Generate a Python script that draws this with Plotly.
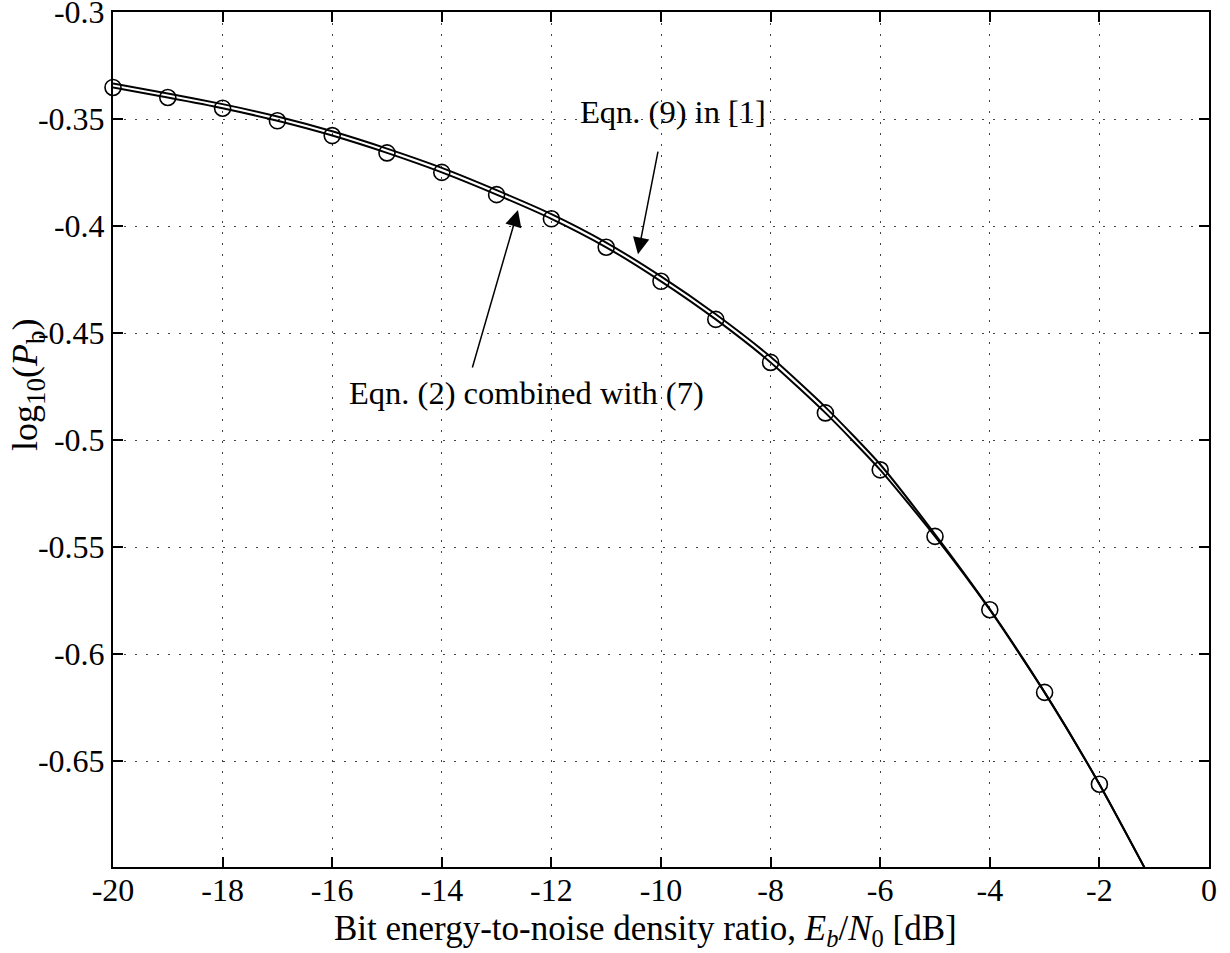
import plotly.graph_objects as go

# ---------------- data ----------------
ebn0_db = [-20, -19, -18, -17, -16, -15, -14, -13, -12, -11, -10,
           -9, -8, -7, -6, -5, -4, -3, -2, -1]
# Eqn. (2) combined with (7)
logpb_eqn2 = [-0.3352, -0.3399, -0.3449, -0.3508, -0.3577, -0.3658, -0.3749,
              -0.3853, -0.3966, -0.4099, -0.4258, -0.4436, -0.4637, -0.4873,
              -0.5139, -0.5450, -0.5793, -0.6179, -0.6608, -0.7083]
# Eqn. (9) in [1]
logpb_eqn9 = [-0.3333, -0.3380, -0.3430, -0.3488, -0.3557, -0.3638, -0.3728,
              -0.3832, -0.3944, -0.4077, -0.4235, -0.4412, -0.4611, -0.4846,
              -0.5114, -0.5440, -0.5790, -0.6179, -0.6608, -0.7083]
# simulated points (circles)
sim_db = [-20, -19, -18, -17, -16, -15, -14, -13, -12, -11, -10,
          -9, -8, -7, -6, -5, -4, -3, -2]
sim_logpb = [-0.3352, -0.3399, -0.3449, -0.3508, -0.3577, -0.3658, -0.3749,
             -0.3853, -0.3966, -0.4099, -0.4258, -0.4436, -0.4637, -0.4873,
             -0.5139, -0.5450, -0.5793, -0.6179, -0.6608]

x_tickvals = [-20, -18, -16, -14, -12, -10, -8, -6, -4, -2, 0]
x_ticktext = ["-20", "-18", "-16", "-14", "-12", "-10", "-8", "-6", "-4", "-2", "0"]
y_tickvals = [-0.65, -0.6, -0.55, -0.5, -0.45, -0.4, -0.35, -0.3]
y_ticktext = ["-0.65", "-0.6", "-0.55", "-0.5", "-0.45", "-0.4", "-0.35", "-0.3"]

label_eqn9 = "Eqn. (9) in [1]"
label_eqn2 = "Eqn. (2) combined with (7)"
x_title = "Bit energy-to-noise density ratio, <i>E<sub>b</sub></i>/<i>N</i><sub>0</sub> [dB]"
y_title = ("log<sub><span style='font-size:27px'>10</span></sub>(<i>P</i>"
           "<sub><span style='font-size:27px'>b</span></sub>)")

FONT = "Liberation Serif, Times New Roman, serif"

fig = go.Figure()
fig.add_trace(go.Scatter(x=ebn0_db, y=logpb_eqn9, mode="lines",
                         line=dict(color="black", width=2, shape="spline", smoothing=0.6),
                         showlegend=False))
fig.add_trace(go.Scatter(x=ebn0_db, y=logpb_eqn2, mode="lines",
                         line=dict(color="black", width=2, shape="spline", smoothing=0.6),
                         showlegend=False))
fig.add_trace(go.Scatter(x=sim_db, y=sim_logpb, mode="markers",
                         marker=dict(symbol="circle-open", size=16, color="black",
                                     line=dict(width=1.6, color="black")),
                         showlegend=False, cliponaxis=False))

# text labels
fig.add_annotation(x=-9.78, y=-0.3467, xref="x", yref="y", text=label_eqn9,
                   xanchor="center", yanchor="middle",
                   showarrow=False, font=dict(family=FONT, size=32.5, color="black"))
fig.add_annotation(x=-12.46, y=-0.478, xref="x", yref="y", text=label_eqn2,
                   xanchor="center", yanchor="middle",
                   showarrow=False, font=dict(family=FONT, size=32.5, color="black"))
# arrows
fig.add_annotation(x=-10.42, y=-0.4131, ax=-10.05, ay=-0.3645, xref="x", yref="y",
                   axref="x", ayref="y", text="", showarrow=True, arrowhead=2,
                   arrowsize=2.2, arrowwidth=1.5, arrowcolor="black")
fig.add_annotation(x=-12.61, y=-0.3925, ax=-13.45, ay=-0.4668, xref="x", yref="y",
                   axref="x", ayref="y", text="", showarrow=True, arrowhead=2,
                   arrowsize=2.2, arrowwidth=1.5, arrowcolor="black")

# axis titles
fig.add_annotation(x=0.4863, y=-0.0737, xref="paper", yref="paper", text=x_title,
                   xanchor="center", yanchor="middle", showarrow=False,
                   font=dict(family=FONT, size=35, color="black"))
fig.add_annotation(x=-0.0775, y=0.5637, xref="paper", yref="paper", text=y_title,
                   xanchor="center", yanchor="middle", textangle=-90, showarrow=False,
                   font=dict(family=FONT, size=36, color="black"))

axis_common = dict(showline=True, linecolor="black", linewidth=2, mirror="ticks",
                   ticks="inside", ticklen=10, tickwidth=2, tickcolor="black",
                   showgrid=True, gridcolor="#444444", gridwidth=1.3,
                   griddash="2px,9px", zeroline=False, ticklabeloverflow="allow",
                   automargin=False,
                   tickfont=dict(family=FONT, size=32, color="black"))

fig.update_xaxes(range=[-20, 0.0001], tickvals=x_tickvals, ticktext=x_ticktext,
                 ticklabelstandoff=-6, **axis_common)
fig.update_yaxes(range=[-0.6995, -0.29995], tickvals=y_tickvals, ticktext=y_ticktext,
                 **axis_common)

fig.update_layout(width=1230, height=953, plot_bgcolor="white", paper_bgcolor="white",
                  margin=dict(l=113, r=21, t=12, b=86, autoexpand=False),
                  font=dict(family=FONT, color="black"))

# remove the browser's default 8px body margin so the figure fills the window
fig.write_html("out.html", config={"displayModeBar": False},
               post_script="document.body.style.margin='0';document.body.style.overflow='hidden';")
